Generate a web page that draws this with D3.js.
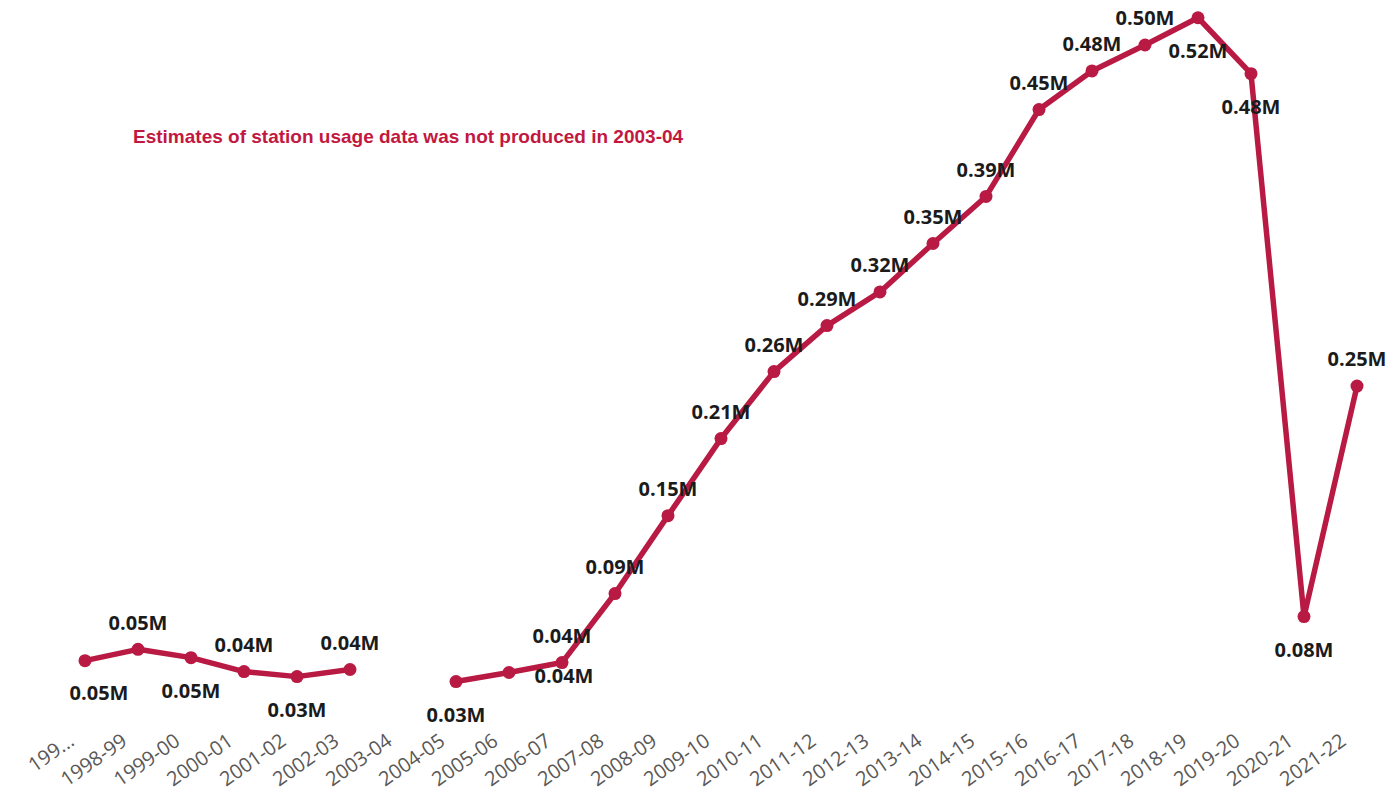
<!DOCTYPE html>
<html>
<head>
<meta charset="utf-8">
<script src="https://cdn.jsdelivr.net/npm/d3@7"></script>
<style>
  body { margin: 0; background: #fff; }
  svg { display: block; }
</style>
</head>
<body>
<svg width="1385" height="795"></svg>
<script>
// station usage, millions of entries/exits (2003-04 not produced)
const years = ["1997-98", "1998-99", "1999-00", "2000-01", "2001-02", "2002-03", "2003-04",
  "2004-05", "2005-06", "2006-07", "2007-08", "2008-09", "2009-10", "2010-11", "2011-12",
  "2012-13", "2013-14", "2014-15", "2015-16", "2016-17", "2017-18", "2018-19", "2019-20",
  "2020-21", "2021-22"];
const usage = [0.0457, 0.054, 0.0479, 0.0377, 0.034, 0.0392, null,
  0.0304, 0.037, 0.0443, 0.0949, 0.152, 0.2085, 0.2576, 0.2913,
  0.316, 0.3515, 0.386, 0.4497, 0.478, 0.497, 0.517, 0.476,
  0.078, 0.247];
const tickLabels = ["199...", "1998-99", "1999-00", "2000-01", "2001-02", "2002-03", "2003-04",
  "2004-05", "2005-06", "2006-07", "2007-08", "2008-09", "2009-10", "2010-11", "2011-12",
  "2012-13", "2013-14", "2014-15", "2015-16", "2016-17", "2017-18", "2018-19", "2019-20",
  "2020-21", "2021-22"];
// where each data label sits relative to its point
const labelSide = ["br", "a", "b", "a", "b", "a", null, "b", "r", "a", "a", "a", "a", "a", "a",
  "a", "a", "a", "a", "a", "a", "b", "b", "b", "a"];
const note = "Estimates of station usage data was not produced in 2003-04";

const lineColor = "#b81a43";
const svg = d3.select("svg");

const x = d3.scalePoint()
    .domain(years)
    .range([85, 1357]);

const y = d3.scaleLinear()
    .domain([0, 0.53])
    .range([723, 0]);

const fmt = v => d3.format(".2f")(v) + "M";

const data = years.map((yr, i) => ({year: yr, value: usage[i], side: labelSide[i]}));

// x axis labels only (no line, no ticks)
const xAxis = svg.append("g")
    .attr("transform", "translate(0,744)")
    .call(d3.axisBottom(x).tickSize(0).tickFormat((d, i) => tickLabels[i]));
xAxis.select(".domain").remove();
xAxis.selectAll("text")
    .attr("font-family", "'Open Sans', sans-serif")
    .attr("font-size", 20)
    .attr("fill", "#5a5856")
    .attr("text-anchor", "end")
    .attr("dy", 0)
    .attr("y", 0)
    .attr("transform", "translate(-10,0) rotate(-35)");

const line = d3.line()
    .defined(d => d.value != null)
    .x(d => x(d.year))
    .y(d => y(d.value));

svg.append("path")
    .datum(data)
    .attr("fill", "none")
    .attr("stroke", lineColor)
    .attr("stroke-width", 5.5)
    .attr("stroke-linejoin", "round")
    .attr("d", line);

const pts = data.filter(d => d.value != null);

svg.selectAll("circle.pt")
    .data(pts)
    .join("circle")
      .attr("class", "pt")
      .attr("cx", d => x(d.year))
      .attr("cy", d => y(d.value))
      .attr("r", 6.5)
      .attr("fill", lineColor);

const off = {
  a: [0, -27],
  b: [0, 33],
  r: [55, 3],
  br: [14, 32]
};

svg.selectAll("text.lbl")
    .data(pts)
    .join("text")
      .attr("class", "lbl")
      .attr("x", d => x(d.year) + off[d.side][0])
      .attr("y", d => y(d.value) + off[d.side][1])
      .attr("dy", "0.36em")
      .attr("text-anchor", "middle")
      .attr("font-family", "'Open Sans', sans-serif")
      .attr("font-weight", 700)
      .attr("font-size", 20)
      .attr("fill", "#1b1b1b")
      .text(d => fmt(d.value));

svg.append("text")
    .attr("x", 133)
    .attr("y", 143)
    .attr("font-family", "'Liberation Sans', Arial, sans-serif")
    .attr("font-weight", 700)
    .attr("font-size", 19)
    .attr("fill", "#c2183f")
    .text(note);
</script>
</body>
</html>
